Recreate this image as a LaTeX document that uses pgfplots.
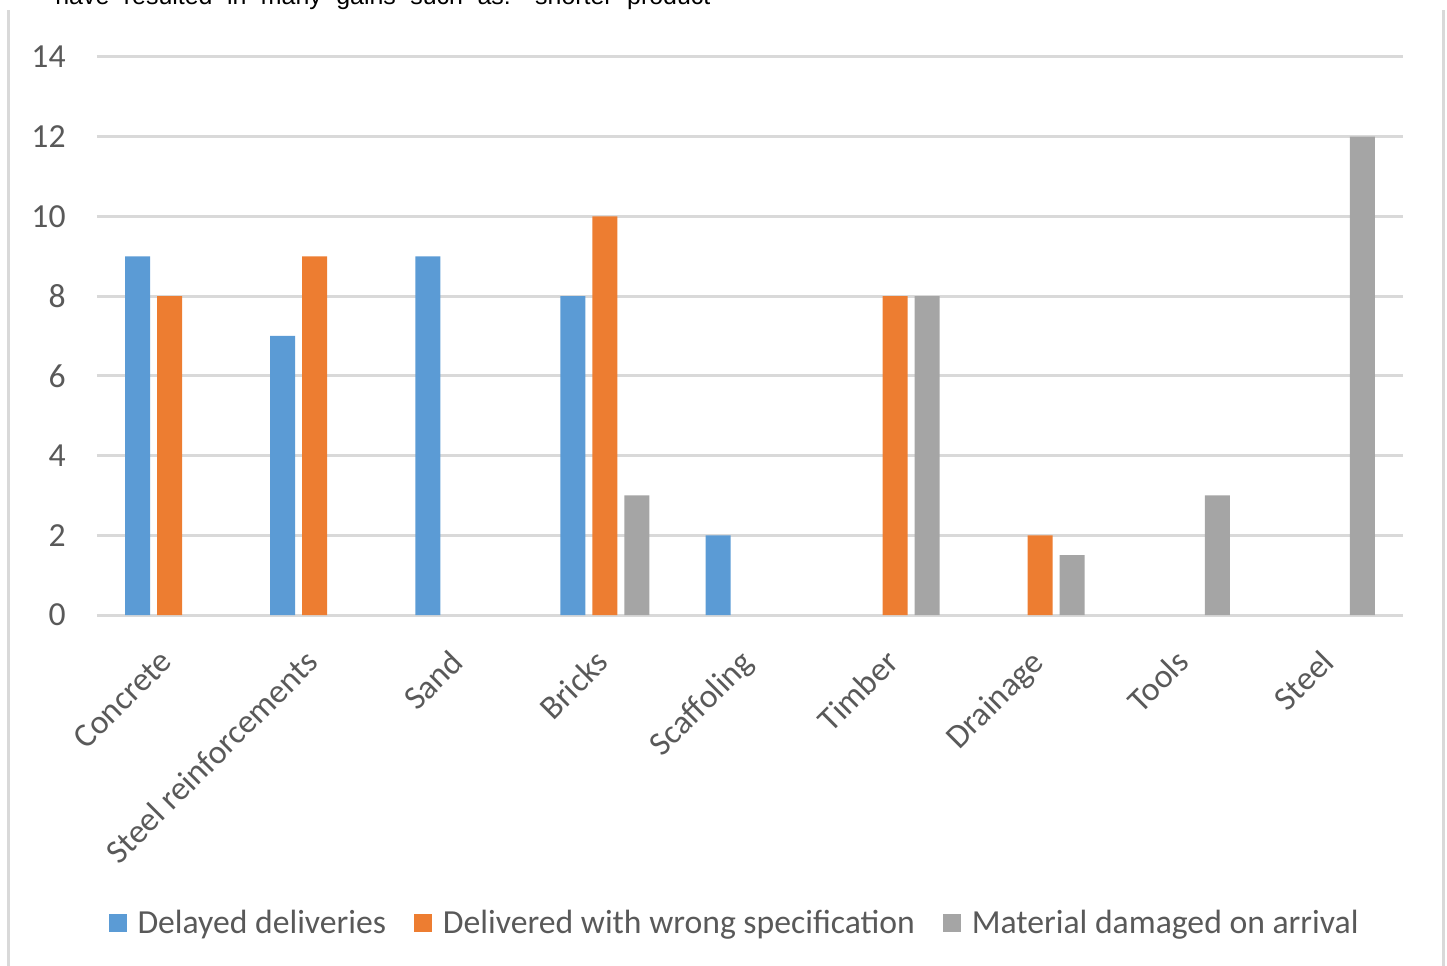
\documentclass[border=0pt]{standalone}
\usepackage{pgfplots}
\pgfplotsset{compat=1.18}
\usepackage{fontspec}
\setmainfont{Carlito}
\newfontfamily\arial{Liberation Sans}
\definecolor{cblue}{HTML}{5B9BD5}
\definecolor{corange}{HTML}{ED7D31}
\definecolor{cgray}{HTML}{A5A5A5}
\definecolor{gridc}{HTML}{D9D9D9}
\definecolor{txt}{HTML}{595959}
\definecolor{framec}{HTML}{D9D9D9}
\begin{document}
\begin{tikzpicture}
\useasboundingbox (0,0) rectangle (723.5bp,483bp);
\draw[framec, line width=1.5bp] (4bp,0) -- (4bp,478bp);
\draw[framec, line width=1.5bp] (721.5bp,0) -- (721.5bp,478bp);
\node[anchor=base west, inner sep=0pt] at (27.5bp,480.5bp) {\arial\fontsize{12.5}{15}\selectfont\makebox[327.5bp][s]{have resulted in many gains such as: shorter product}};
\begin{axis}[
  scale only axis, width=653bp, height=279bp,
  at={(48.5bp,175.5bp)}, anchor=south west,
  ymin=0, ymax=14, ytick={0,2,...,14},
  xmin=-0.5, xmax=8.5, xtick={0,...,8},
  xticklabels={Concrete,Steel reinforcements,Sand,Bricks,Scaffoling,Timber,Drainage,Tools,Steel},
  ybar=3.5bp, bar width=12.5bp,
  axis line style={draw=none}, major tick length=0pt,
  ymajorgrids, grid style={gridc, line width=1.5bp},
  tick label style={text=txt, font=\fontsize{16.9}{20}\selectfont},
  /pgf/number format/assume math mode=true,
  yticklabel style={anchor=east, inner sep=0pt, xshift=-15.5bp},
  xticklabel style={rotate=45, anchor=north east, inner sep=0pt, xshift=-15.5bp, yshift=-7.5bp},
  legend style={at={(0.4889,-0.552)}, anchor=center, draw=none, fill=none,
    legend columns=-1, font=\fontsize{16.9}{20}\selectfont, text=txt,
    /tikz/every even column/.append style={column sep=12bp},
    /tikz/every odd column/.append style={column sep=3.5bp},
    cells={anchor=west}},
  legend image code/.code={\fill[#1] (0bp,-4.5bp) rectangle (9bp,4.5bp);},
  clip=false,
]
\addplot[fill=cblue, draw=none] coordinates {(0,9) (1,7) (2,9) (3,8) (4,2)};
\addplot[fill=corange, draw=none] coordinates {(0,8) (1,9) (3,10) (5,8) (6,2)};
\addplot[fill=cgray, draw=none] coordinates {(3,3) (5,8) (6,1.5) (7,3) (8,12)};
\legend{Delayed deliveries, Delivered with wrong specification, Material damaged on arrival}
\end{axis}
\end{tikzpicture}
\end{document}
